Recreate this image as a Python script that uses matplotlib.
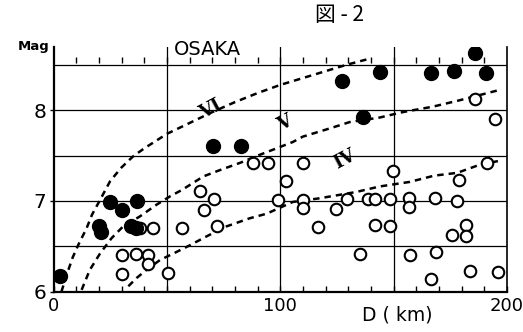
import numpy as np
import matplotlib.pyplot as plt
from matplotlib.ticker import MultipleLocator

# curves (intensity limits)
vi_d = [3.5, 6, 8.5, 11, 14.6, 17, 20.5, 25, 30, 35, 40, 50, 60, 70, 80, 90, 100, 114.5, 129, 138]
vi_m = [6.0, 6.2, 6.38, 6.52, 6.70, 6.85, 7.01, 7.22, 7.37, 7.49, 7.58, 7.74, 7.86, 7.98, 8.09, 8.19, 8.28, 8.39, 8.50, 8.56]

v_d = [12.4, 16, 20.5, 25.6, 30.7, 38.1, 45.5, 51.3, 56.5, 61.6, 66, 73.3, 82.2, 90, 98.3, 105.5,
       110, 121.8, 130.6, 143.8, 154, 167.3, 179, 196]
v_m = [6.02, 6.24, 6.42, 6.59, 6.72, 6.83, 6.96, 7.05, 7.12, 7.20, 7.27, 7.34, 7.42, 7.50, 7.58, 7.65,
       7.71, 7.80, 7.87, 7.92, 7.98, 8.04, 8.11, 8.22]

iv_d = [33, 36.6, 41, 47, 52.8, 60, 67.5, 76.3, 86.6, 94, 105.6, 117.4, 133.6, 143.8, 157, 168, 178, 188, 196]
iv_m = [6.06, 6.15, 6.24, 6.35, 6.42, 6.51, 6.61, 6.72, 6.81, 6.86, 6.99, 7.03, 7.10, 7.16, 7.21, 7.28, 7.31, 7.40, 7.44]

# felt (filled) and not felt (open) earthquakes
felt_d = [2.9, 20.0, 21.0, 24.9, 30.0, 36.9, 34.2, 36.6, 70.4, 82.6, 127.4, 136.5, 143.8,
          166.6, 176.6, 186.1, 190.8]
felt_m = [6.17, 6.72, 6.66, 6.99, 6.90, 7.00, 6.72, 6.70, 7.61, 7.61, 8.32, 7.93, 8.42,
          8.41, 8.43, 8.63, 8.41]

open_d = [30.0, 36.6, 41.8, 41.8, 30.3, 50.3, 38.1, 44.0, 56.5, 64.6, 70.8, 66.3, 72.0,
          88.0, 94.6, 110.2, 98.8, 102.7, 110.0, 110.0, 116.8, 124.6, 129.4, 135.0,
          138.7, 141.6, 148.4, 141.6, 148.6, 149.7, 157.0, 157.0, 157.4, 168.3, 168.5, 166.6,
          177.9, 178.8, 175.6, 182.0, 182.0, 183.8, 196.0, 191.0, 186.0, 194.5]
open_m = [6.41, 6.42, 6.40, 6.31, 6.20, 6.21, 6.70, 6.70, 6.70, 7.11, 7.02, 6.90, 6.72,
          7.42, 7.42, 7.42, 7.01, 7.22, 7.01, 6.92, 6.71, 6.91, 7.02, 6.42,
          7.02, 7.02, 7.02, 6.73, 6.72, 7.33, 7.03, 6.93, 6.40, 7.03, 6.44, 6.14,
          7.00, 7.23, 6.63, 6.73, 6.61, 6.23, 6.22, 7.42, 8.12, 7.90]

curve_labels = ['VI', 'V', 'IV']
label_pos = [(69.5, 8.01), (102, 7.86), (128.5, 7.46)]


def main():
    fig = plt.figure(figsize=(5.23, 3.32), dpi=100)
    ax = fig.add_axes([0.1023, 0.1214, 0.8671, 0.7376])

    ax.set_xlim(0, 200)
    ax.set_ylim(6, 8.7)

    # grid
    for gx in [50, 100, 150]:
        ax.axvline(gx, color='black', lw=0.9, zorder=1)
    for gy in [6.5, 7, 7.5, 8, 8.5]:
        ax.axhline(gy, color='black', lw=0.9, zorder=1)

    # short marks along the upper line, every 10 km
    top_ticks = np.arange(10, 200, 10)
    ax.plot(top_ticks, np.full(len(top_ticks), 8.56), '|', color='black', ms=4, mew=1, zorder=1)

    dash = (0, (2.6, 2.0))
    for d, m in [(vi_d, vi_m), (v_d, v_m), (iv_d, iv_m)]:
        ax.plot(d, m, color='black', lw=1.8, linestyle=dash, zorder=2)

    ax.plot(open_d, open_m, 'o', ms=8.3, mfc='white', mec='black', mew=1.5, zorder=3)
    ax.plot(felt_d, felt_m, 'o', ms=10, mfc='black', mec='black', zorder=4)

    for lab, (px, py) in zip(curve_labels, label_pos):
        ax.text(px, py, lab, fontsize=13, fontweight='bold', family='DejaVu Serif',
                rotation=28, ha='center', va='center', zorder=5)

    ax.spines['top'].set_visible(False)
    ax.spines['bottom'].set_linewidth(1.6)
    ax.spines['left'].set_linewidth(1.6)
    ax.spines['right'].set_linewidth(1.2)

    ax.set_xticks([0, 100, 200])
    ax.set_xticklabels(['0', '100', '200'])
    ax.xaxis.set_minor_locator(MultipleLocator(10))
    ax.tick_params(axis='x', which='both', direction='in', length=4, width=1, pad=4, labelsize=13)
    ax.set_yticks([6, 7, 8])
    ax.tick_params(axis='y', direction='out', length=3, width=1, pad=2, labelsize=14.5)

    ax.text(-0.008, 1.0, 'Mag', transform=ax.transAxes, ha='right', va='center',
            fontsize=9.5, fontweight='bold')
    ax.text(0.339, 0.987, 'OSAKA', transform=ax.transAxes, ha='center', va='center',
            fontsize=14, zorder=6)
    ax.text(0.757, -0.095, 'D ( km)', transform=ax.transAxes, ha='center', va='center', fontsize=13.5)
    fig.text(0.65, 0.955, '図 - 2', ha='center', va='center', fontsize=15,
             family=['Noto Sans CJK JP', 'DejaVu Sans'])

    fig.savefig('out.png', dpi=100)


if __name__ == "__main__":
    main()
